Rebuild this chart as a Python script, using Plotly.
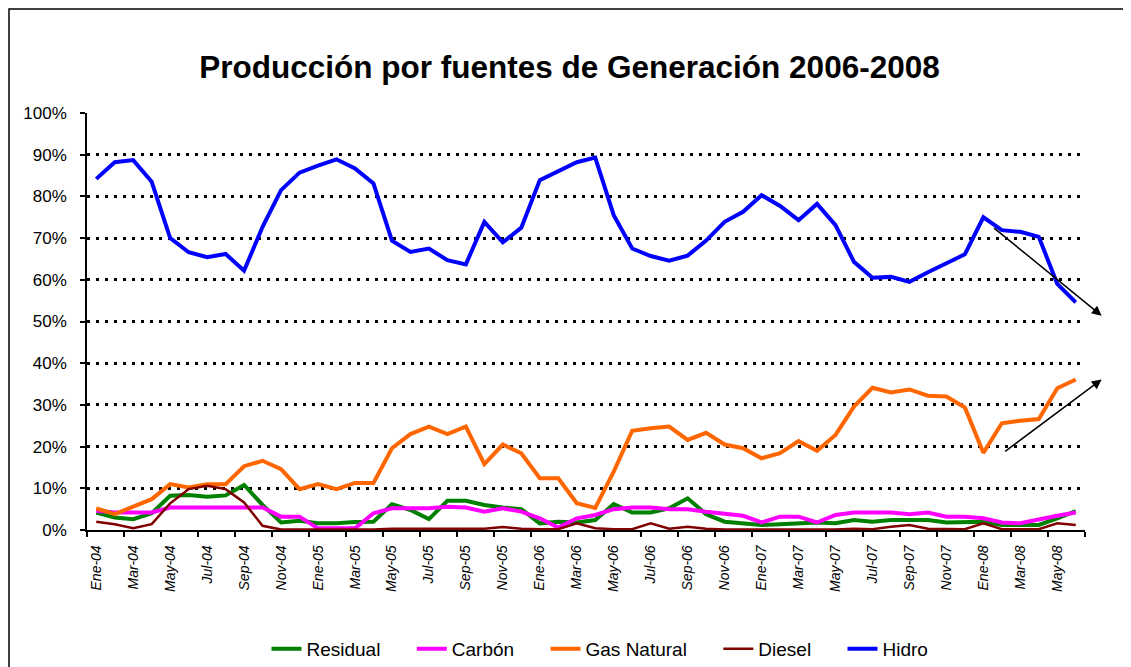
import plotly.graph_objects as go

month_abbr = ["Ene", "Feb", "Mar", "Abr", "May", "Jun", "Jul", "Ago", "Sep", "Oct", "Nov", "Dic"]
years = ["04", "05", "06", "07", "08"]
n_months = 54  # Ene-04 .. Jun-08
months = [f"{month_abbr[i % 12]}-{years[i // 12]}" for i in range(n_months)]

residual = [4.2, 3.0, 2.6, 4.0, 8.2, 8.4, 8.0, 8.3, 10.8, 6.0,
            1.8, 2.2, 1.6, 1.6, 1.9, 2.0, 6.2, 4.8, 2.6, 7.0,
            7.0, 6.0, 5.4, 5.0, 1.6, 2.0, 1.8, 2.4, 6.2, 4.2,
            4.2, 5.2, 7.6, 3.8, 2.0, 1.7, 1.2, 1.4, 1.6, 1.8,
            1.6, 2.4, 2.0, 2.4, 2.4, 2.4, 1.8, 2.0, 2.0, 1.2,
            1.2, 1.2, 2.8, 4.5]
carbon = [4.6, 4.2, 4.2, 4.2, 5.4, 5.4, 5.4, 5.4, 5.4, 5.4,
          3.2, 3.2, 0.4, 0.4, 0.4, 4.0, 5.2, 5.2, 5.2, 5.6,
          5.4, 4.4, 5.2, 4.4, 2.8, 0.6, 2.8, 3.6, 5.0, 5.4,
          5.4, 5.0, 5.0, 4.4, 4.0, 3.4, 1.8, 3.2, 3.2, 1.8,
          3.6, 4.2, 4.2, 4.2, 3.8, 4.2, 3.2, 3.2, 2.8, 1.8,
          1.6, 2.6, 3.4, 4.2]
gas_natural = [5.2, 3.8, 5.6, 7.4, 11.0, 10.2, 11.0, 11.0, 15.3, 16.6,
               14.6, 9.8, 11.0, 9.8, 11.3, 11.3, 19.6, 23.0, 24.8, 23.0,
               24.8, 15.8, 20.5, 18.4, 12.4, 12.4, 6.4, 5.3, 14.0, 23.8,
               24.4, 24.8, 21.6, 23.3, 20.5, 19.6, 17.2, 18.4, 21.3, 19.0,
               22.8, 29.6, 34.1, 33.0, 33.7, 32.2, 32.0, 29.4, 18.5, 25.6,
               26.2, 26.6, 34.0, 36.1]
diesel = [2.0, 1.4, 0.4, 1.4, 6.4, 9.8, 10.6, 9.8, 6.6, 1.0,
          0.1, 0.1, 0.1, 0.1, 0.1, 0.1, 0.3, 0.3, 0.3, 0.3,
          0.2, 0.3, 0.7, 0.3, 0.2, 0.2, 1.6, 0.4, 0.2, 0.2,
          1.6, 0.3, 0.8, 0.3, 0.1, 0.1, 0.1, 0.1, 0.1, 0.1,
          0.1, 0.3, 0.2, 0.8, 1.2, 0.3, 0.2, 0.2, 1.6, 0.2,
          0.2, 0.2, 1.6, 1.2]
hidro = [84.2, 88.2, 88.7, 83.5, 70.0, 66.6, 65.4, 66.2, 62.2, 72.7,
         81.5, 85.7, 87.4, 88.9, 86.7, 83.1, 69.4, 66.7, 67.5, 64.7,
         63.7, 73.9, 69.0, 72.5, 83.9, 86.1, 88.2, 89.3, 75.5, 67.5,
         65.7, 64.6, 65.8, 69.4, 73.9, 76.3, 80.3, 77.7, 74.3, 78.2,
         73.1, 64.3, 60.5, 60.7, 59.5, 61.8, 63.9, 66.1, 75.0, 71.9,
         71.5, 70.3, 59.0, 54.6]

series = [
    ("Residual", residual, "#008000", 4),
    ("Carbón", carbon, "#FF00FF", 4),
    ("Gas Natural", gas_natural, "#FF6600", 4),
    ("Diesel", diesel, "#800000", 2.5),
    ("Hidro", hidro, "#0000FF", 4),
]

# trend arrows: (tail index, tail %, head index, head %)
trend_arrows = [(48.5, 72.7, 54.4, 51.4), (49.1, 18.6, 54.4, 36.1)]

FONT = "Arial, Liberation Sans, sans-serif"

# the page body adds an 8px margin around the figure
W, H = 1123, 659
ML, MR, MT, MB = 79, 46, 105, 137
PW, PH = W - ML - MR, H - MT - MB

fig = go.Figure()
for k, (name, vals, color, w) in enumerate(series):
    pad = "\u00a0" * 5 if k < len(series) - 1 else ""
    fig.add_trace(go.Scatter(x=months, y=vals, mode="lines", name=name + pad,
                             line=dict(color=color, width=w)))

for tx, ty, hx, hy in trend_arrows:
    fig.add_annotation(x=hx, y=hy, ax=tx, ay=ty, xref="x", yref="y",
                       axref="x", ayref="y", text="", showarrow=True,
                       arrowhead=2, arrowsize=1.3, arrowwidth=1.5,
                       arrowcolor="black")

fig.add_shape(type="rect", xref="paper", yref="paper",
              x0=(1 - ML) / PW, x1=1.2, y0=-0.5, y1=1 + (MT - 1) / PH,
              line=dict(color="black", width=1.5), fillcolor="rgba(0,0,0,0)")

fig.update_layout(
    width=W, height=H,
    margin=dict(l=ML, r=MR, t=MT, b=MB, autoexpand=False),
    paper_bgcolor="white", plot_bgcolor="white",
    font=dict(family=FONT, color="black"),
    title=dict(text="Producción por fuentes de Generación 2006-2008",
               x=0.5, xref="container", xanchor="center",
               y=1 - 59 / H, yref="container", yanchor="middle",
               font=dict(family=FONT, size=31.5, weight="bold", color="black")),
    legend=dict(orientation="h", x=0.514, xanchor="center",
                y=-0.2854, yanchor="middle",
                font=dict(family=FONT, size=19, color="black"),
                itemwidth=30, tracegroupgap=0),
    showlegend=True,
)

fig.update_xaxes(
    type="category", range=[-0.5, n_months - 0.5],
    showline=True, linecolor="black", linewidth=1.5,
    ticks="outside", ticklen=5, tickcolor="black", tickwidth=1.5,
    tickson="boundaries", dtick=2, tickangle=-90,
    ticklabelstandoff=8,
    tickfont=dict(family=FONT, size=14, style="italic", color="black"),
    showgrid=False, zeroline=False,
)
fig.update_yaxes(
    range=[0, 100], dtick=10, ticksuffix="%",
    showline=True, linecolor="black", linewidth=1.5,
    ticks="outside", ticklen=5, tickcolor="black", tickwidth=1.5,
    ticklabelstandoff=10,
    tickfont=dict(family=FONT, size=17, color="black"),
    showgrid=True, gridcolor="black", gridwidth=2.5, griddash="3px,6px",
    zeroline=False,
)

fig.write_html("out.html")
